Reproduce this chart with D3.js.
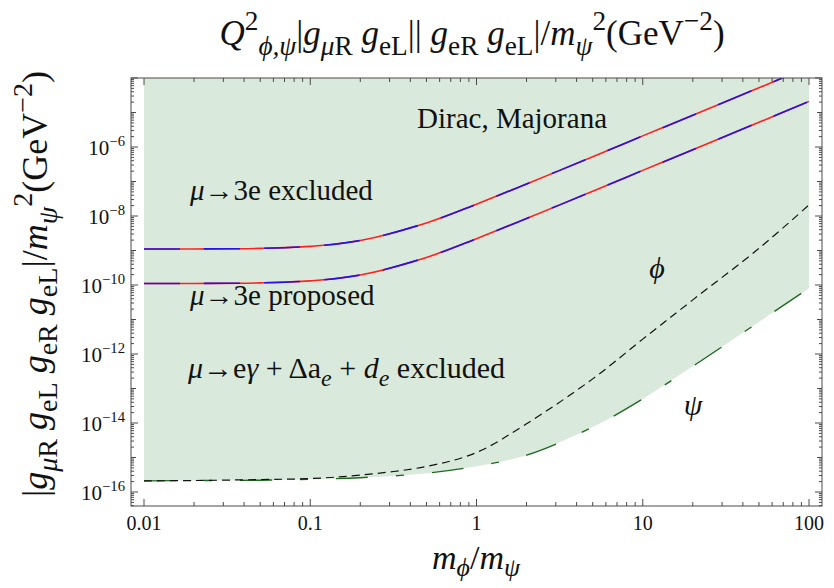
<!DOCTYPE html>
<html>
<head>
<meta charset="utf-8">
<script src="https://cdn.jsdelivr.net/npm/d3@7"></script>
<style>
  html, body { margin: 0; padding: 0; background: #fff; }
  svg text { white-space: pre; }
</style>
</head>
<body>
<svg id="chart" width="834" height="588" font-family="'Liberation Serif', 'DejaVu Serif', serif"></svg>
<script>
// Mass ratio m_phi / m_psi (sample points)
const ratio = [0.01, 0.02, 0.05, 0.1, 0.2, 0.5, 1, 2, 5, 10, 20, 50, 100];

// mu -> 3e bounds (GeV^-2)
const mu3eExcluded = [1.10e-9, 1.11e-9, 1.15e-9, 1.32e-9, 1.95e-9, 6.3e-9, 2.2e-8, 8.5e-8, 5.2e-7, 2.1e-6, 8.3e-6, 5.2e-5, 2.1e-4];
const mu3eProposed = [1.10e-10, 1.11e-10, 1.15e-10, 1.32e-10, 1.95e-10, 6.3e-10, 2.2e-9, 8.5e-9, 5.2e-8, 2.1e-7, 8.3e-7, 5.2e-6, 2.1e-5];

// mu -> e gamma + Delta a_e + d_e bounds for the phi and psi charge assignments
const phiBound = [2.1e-16, 2.15e-16, 2.3e-16, 2.45e-16, 3.1e-16, 5.5e-16, 1.4e-15, 9.5e-15, 1.9e-13, 2.7e-12, 3.7e-11, 1.15e-9, 2.1e-8];
const psiBound = [2.1e-16, 2.15e-16, 2.2e-16, 2.35e-16, 2.6e-16, 3.5e-16, 5.6e-16, 1.17e-15, 7.6e-15, 5.0e-14, 4.4e-13, 8.5e-12, 8.1e-11];

// Axis ticks
const xTickValues = [0.01, 0.1, 1, 10, 100];
const xTickLabels = ["0.01", "0.1", "1", "10", "100"];
const yTickExponents = [-16, -14, -12, -10, -8, -6];

const svg = d3.select("#chart");

const x = d3.scaleLog().domain([0.01, 100]).range([144, 809]);
const y = d3.scaleLog().domain([1e-16, 1e-4]).range([492, 78]);

const frame = { left: 131, right: 822, top: 78, bottom: 506 };
const frameColor = "#4a4a4a";
const PHI = "\u03d5", PSI = "\u03c8", MU = "\u03bc";
const curve = d3.curveCatmullRom.alpha(0.5);

// Writes a run of base / superscript / subscript pieces into a <text>
function rich(sel, segs, size, scriptScale = 0.72, subShift = 0.28) {
  let cur = 0;
  segs.forEach(([s, pos, it]) => {
    const fs = pos === 0 ? size : size * scriptScale;
    const off = pos === 1 ? -0.42 * size : pos === -1 ? subShift * size : 0;
    sel.append("tspan")
      .attr("dy", off - cur)
      .attr("font-size", fs)
      .attr("font-style", it ? "italic" : "normal")
      .text(s);
    cur = off;
  });
  return sel;
}

svg.append("clipPath").attr("id", "plotClip")
  .append("rect")
  .attr("x", frame.left).attr("y", frame.top)
  .attr("width", frame.right - frame.left).attr("height", frame.bottom - frame.top);

const plot = svg.append("g").attr("clip-path", "url(#plotClip)");

const rows = ratio.map((r, i) => ({
  r, ex: mu3eExcluded[i], pr: mu3eProposed[i], phi: phiBound[i], psi: psiBound[i]
}));

// Shading above the psi bound
plot.append("path")
  .datum(rows)
  .attr("fill", "#d9eadc")
  .attr("d", d3.area()
    .x(d => x(d.r))
    .y0(d => y(d.psi))
    .y1(frame.top)
    .curve(curve));

const line = key => d3.line()
  .x(d => x(d.r))
  .y(d => y(d[key]))
  .curve(curve);

// psi bound: long-short dashed dark green
plot.append("path").datum(rows)
  .attr("fill", "none").attr("stroke", "#1f6a1f").attr("stroke-width", 1.4)
  .attr("stroke-dasharray", "32,28,8,28")
  .attr("d", line("psi"));

// phi bound: short black dashes
plot.append("path").datum(rows)
  .attr("fill", "none").attr("stroke", "#111").attr("stroke-width", 1.2)
  .attr("stroke-dasharray", "8,5")
  .attr("d", line("phi"));

// mu -> 3e lines: red underneath, blue dashes on top (Dirac and Majorana coincide)
["ex", "pr"].forEach(k => {
  plot.append("path").datum(rows)
    .attr("fill", "none").attr("stroke", "#ff2020").attr("stroke-width", 1.6)
    .attr("d", line(k));
  plot.append("path").datum(rows)
    .attr("fill", "none").attr("stroke", "#2a12e6").attr("stroke-width", 1.6)
    .attr("stroke-dasharray", "36,24")
    .attr("d", line(k));
});

// Frame
svg.append("rect")
  .attr("x", frame.left).attr("y", frame.top)
  .attr("width", frame.right - frame.left).attr("height", frame.bottom - frame.top)
  .attr("fill", "none").attr("stroke", frameColor).attr("stroke-width", 1);

// Ticks
const ticks = svg.append("g").attr("stroke", frameColor).attr("stroke-width", 1);
for (let e = -2; e <= 2; e++) {
  for (let k = 1; k <= 9; k++) {
    const v = k * Math.pow(10, e);
    if (v > 100.0001) break;
    const px = x(v);
    const len = k === 1 ? 7 : 4;
    ticks.append("line").attr("x1", px).attr("x2", px).attr("y1", frame.bottom).attr("y2", frame.bottom - len);
    ticks.append("line").attr("x1", px).attr("x2", px).attr("y1", frame.top).attr("y2", frame.top + len);
  }
}
for (let e = -17; e <= -4; e++) {
  for (let k = 1; k <= 9; k++) {
    const v = k * Math.pow(10, e);
    const py = y(v);
    if (py > frame.bottom + 0.01 || py < frame.top - 0.01) continue;
    const len = k === 1 ? (e % 2 === 0 ? 7 : 5) : 3;
    ticks.append("line").attr("x1", frame.left).attr("x2", frame.left + len).attr("y1", py).attr("y2", py);
    ticks.append("line").attr("x1", frame.right).attr("x2", frame.right - len).attr("y1", py).attr("y2", py);
  }
}

// Tick labels
svg.append("g").selectAll("text")
  .data(xTickValues)
  .join("text")
  .attr("x", d => x(d)).attr("y", 530)
  .attr("text-anchor", "middle").attr("font-size", 20).attr("fill", "#111")
  .text((d, i) => xTickLabels[i]);

const yl = svg.append("g");
yTickExponents.forEach(e => {
  const t = yl.append("text")
    .attr("x", 125).attr("y", y(Math.pow(10, e)) + 8)
    .attr("text-anchor", "end").attr("fill", "#111");
  rich(t, [["10", 0, 0], ["\u2212" + Math.abs(e), 1, 0]], 21, 0.7);
});

// Title
rich(svg.append("text").attr("x", 472).attr("y", 45).attr("text-anchor", "middle").attr("fill", "#111"), [
  ["Q", 0, 1], ["2", 1, 0], [PHI + "," + PSI, -1, 1], ["|", 0, 0],
  ["g", 0, 1], [MU, -1, 1], ["R", -1, 0], [" ", 0, 0],
  ["g", 0, 1], ["eL", -1, 0], ["|| ", 0, 0],
  ["g", 0, 1], ["eR", -1, 0], [" ", 0, 0],
  ["g", 0, 1], ["eL", -1, 0], ["|/", 0, 0],
  ["m", 0, 1], [PSI, -1, 1], ["2", 1, 0], ["(GeV", 0, 0], ["\u22122", 1, 0], [")", 0, 0]
], 35, 0.78);

// Y axis label
rich(svg.append("text").attr("transform", "translate(47,284) rotate(-90)").attr("text-anchor", "middle").attr("fill", "#111"), [
  ["|", 0, 0],
  ["g", 0, 1], [MU, -1, 1], ["R", -1, 0], [" ", 0, 0],
  ["g", 0, 1], ["eL", -1, 0], [" ", 0, 0],
  ["g", 0, 1], ["eR", -1, 0], [" ", 0, 0],
  ["g", 0, 1], ["eL", -1, 0], ["|/", 0, 0],
  ["m", 0, 1], [PSI, -1, 1], ["2", 1, 0], ["(GeV", 0, 0], ["\u22122", 1, 0], [")", 0, 0]
], 36, 0.78);

// X axis label
rich(svg.append("text").attr("x", 476).attr("y", 569).attr("text-anchor", "middle").attr("fill", "#111"), [
  ["m", 0, 1], [PHI, -1, 1], ["/", 0, 0], ["m", 0, 1], [PSI, -1, 1]
], 34, 0.76, 0.22);

// Region annotations
const ann = svg.append("g").attr("fill", "#111");
rich(ann.append("text").attr("x", 417).attr("y", 128), [["Dirac, Majorana", 0, 0]], 29);
rich(ann.append("text").attr("x", 190).attr("y", 200), [[MU, 0, 1], ["\u21923e excluded", 0, 0]], 29);
rich(ann.append("text").attr("x", 190).attr("y", 305), [[MU, 0, 1], ["\u21923e proposed", 0, 0]], 29);
rich(ann.append("text").attr("x", 188).attr("y", 378), [
  [MU, 0, 1], ["\u2192e", 0, 0], ["\u03b3", 0, 1], [" + \u0394a", 0, 0], ["e", -1, 1],
  [" + ", 0, 0], ["d", 0, 1], ["e", -1, 1], [" excluded", 0, 0]
], 30, 0.8);
rich(ann.append("text").attr("x", 657).attr("y", 278).attr("text-anchor", "middle"), [[PHI, 0, 1]], 30);
rich(ann.append("text").attr("x", 693).attr("y", 415).attr("text-anchor", "middle"), [[PSI, 0, 1]], 30);
</script>
</body>
</html>
